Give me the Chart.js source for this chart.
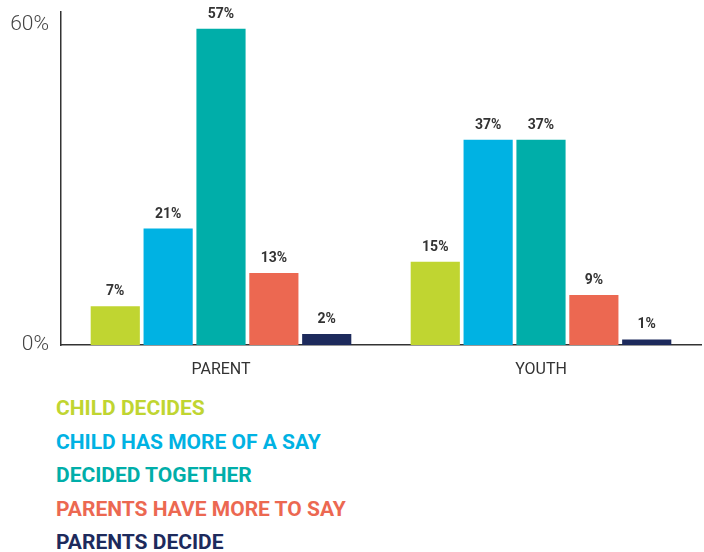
<!DOCTYPE html>
<html>
<head>
<meta charset="utf-8">
<script src="https://cdn.jsdelivr.net/npm/chart.js@4"></script>
<style>
  body { margin: 0; background: #fff; }
  #wrap { position: relative; width: 704px; height: 552px; overflow: hidden; }
  #box { position: absolute; left: 0; top: -17px; width: 704px; height: 407px; }
  #legend { position: absolute; left: 56px; top: 392px; font-family: Roboto, sans-serif; font-weight: 700; font-size: 21px; line-height: 33.5px; }
</style>
</head>
<body>
<div id="wrap">
  <div id="box"><canvas id="barChart"></canvas></div>
  <div id="legend"></div>
</div>
<script>
var groups = ['PARENT', 'YOUTH'];
var seriesNames = ['CHILD DECIDES', 'CHILD HAS MORE OF A SAY', 'DECIDED TOGETHER', 'PARENTS HAVE MORE TO SAY', 'PARENTS DECIDE'];
var childDecides = [7, 15];
var childMoreSay = [21, 37];
var decidedTogether = [57, 37];
var parentsMoreSay = [13, 9];
var parentsDecide = [2, 1];
var yTicks = [0, 60];
var colors = ['#c0d531', '#00b2e3', '#00aea9', '#ec6851', '#1d2a5c'];

var allValues = [childDecides, childMoreSay, decidedTogether, parentsMoreSay, parentsDecide];

// value labels above each bar
var barLabels = {
    id: 'barLabels',
    afterDatasetsDraw: function (chart) {
        var ctx = chart.ctx;
        ctx.save();
        ctx.font = 'bold 14px Roboto, sans-serif';
        ctx.fillStyle = '#333';
        ctx.textAlign = 'center';
        ctx.textBaseline = 'alphabetic';
        chart.data.datasets.forEach(function (ds, i) {
            chart.getDatasetMeta(i).data.forEach(function (bar, j) {
                ctx.fillText(ds.data[j] + '%', bar.x, bar.y - 11);
            });
        });
        ctx.restore();
    }
};

var ctx = document.getElementById('barChart').getContext('2d');
var myChart = new Chart(ctx, {
    type: 'bar',
    data: {
        labels: groups,
        datasets: seriesNames.map(function (name, i) {
            return {
                label: name,
                data: allValues[i],
                backgroundColor: colors[i],
                borderWidth: 0
            };
        })
    },
    options: {
        responsive: true,
        maintainAspectRatio: false,
        animation: false,
        layout: { padding: { top: 0, right: 3, left: 0, bottom: 0 } },
        categoryPercentage: 0.826,
        barPercentage: 0.93,
        plugins: {
            legend: { display: false },
            tooltip: { enabled: false }
        },
        scales: {
            x: {
                grid: { display: false },
                border: { display: true, color: '#333', width: 1.5 },
                ticks: {
                    color: '#333',
                    font: { family: 'Roboto, sans-serif', size: 16 },
                    padding: 7
                },
                afterFit: function (scale) { scale.height = 45; }
            },
            y: {
                min: 0,
                max: 60,
                grid: { display: false },
                border: { display: true, color: '#333', width: 1.5 },
                afterBuildTicks: function (scale) {
                    scale.ticks = yTicks.map(function (v) { return { value: v }; });
                },
                ticks: {
                    color: '#444',
                    font: { family: 'Roboto, sans-serif', size: 21, weight: 300 },
                    padding: 4,
                    callback: function (v) {
                        return v === 60 ? ['', v + '%'] : v + '%';
                    }
                },
                afterFit: function (scale) { scale.width = 61; }
            }
        }
    },
    plugins: [barLabels]
});

var legend = document.getElementById('legend');
seriesNames.forEach(function (name, i) {
    var d = document.createElement('div');
    d.textContent = name;
    d.style.color = colors[i];
    legend.appendChild(d);
});
</script>
</body>
</html>
